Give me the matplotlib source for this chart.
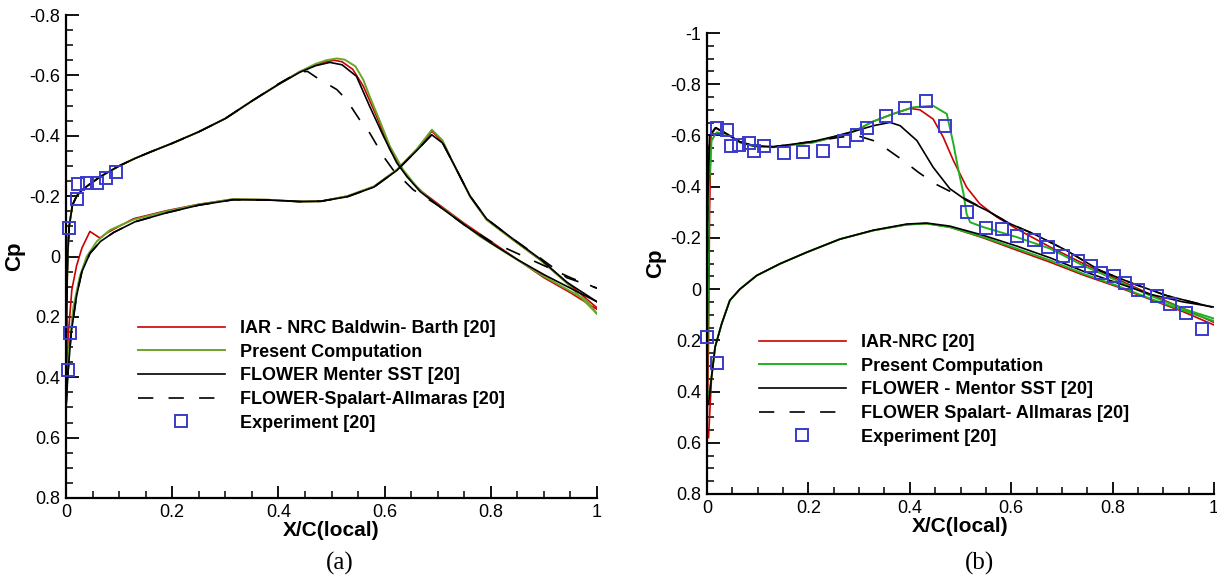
import numpy as np
import matplotlib
matplotlib.use("Agg")
import matplotlib.pyplot as plt
from matplotlib.ticker import MultipleLocator, FuncFormatter

plt.rcParams['font.family'] = ['Liberation Sans', 'DejaVu Sans']
plt.rcParams['axes.unicode_minus'] = False
plt.rcParams['lines.scale_dashes'] = False

# ---------------- (a) ----------------
# upper branch (suction peak near mid chord)
a_iar_up_x = [0, 0.001, 0.003, 0.006, 0.012, 0.02, 0.03, 0.045, 0.065, 0.1, 0.13, 0.16, 0.2, 0.25, 0.3, 0.35, 0.4,
              0.44, 0.47, 0.49, 0.505, 0.52, 0.54, 0.56, 0.585, 0.61, 0.642, 0.67, 0.7, 0.75, 0.8, 0.85, 0.9, 0.95, 1.0]
a_iar_up_cp = [0.45, 0.2, 0.0, -0.1, -0.17, -0.2, -0.22, -0.24, -0.265, -0.3, -0.325, -0.347, -0.375, -0.413, -0.457,
               -0.515, -0.57, -0.612, -0.635, -0.645, -0.65, -0.645, -0.62, -0.564, -0.464, -0.354, -0.265, -0.215,
               -0.175, -0.11, -0.05, 0.01, 0.07, 0.12, 0.175]
a_pres_up_x = [0, 0.001, 0.003, 0.006, 0.012, 0.02, 0.03, 0.045, 0.065, 0.1, 0.13, 0.16, 0.2, 0.25, 0.3, 0.35, 0.4,
               0.44, 0.47, 0.49, 0.51, 0.525, 0.545, 0.56, 0.572, 0.59, 0.61, 0.635, 0.66, 0.685, 0.73, 0.78, 0.84,
               0.9, 0.95, 0.98, 1.0]
a_pres_up_cp = [0.45, 0.2, 0.0, -0.1, -0.17, -0.2, -0.22, -0.24, -0.265, -0.3, -0.325, -0.347, -0.375, -0.413, -0.457,
                -0.515, -0.57, -0.612, -0.638, -0.65, -0.656, -0.652, -0.63, -0.585, -0.53, -0.453, -0.365, -0.287,
                -0.232, -0.19, -0.133, -0.066, 0.0, 0.066, 0.115, 0.145, 0.19]
a_sst_up_x = [0, 0.001, 0.003, 0.006, 0.012, 0.02, 0.03, 0.045, 0.065, 0.1, 0.13, 0.16, 0.2, 0.25, 0.3, 0.35, 0.4,
              0.44, 0.47, 0.497, 0.52, 0.547, 0.572, 0.598, 0.623, 0.642, 0.667, 0.7, 0.75, 0.8, 0.85, 0.9, 0.95, 1.0]
a_sst_up_cp = [0.45, 0.2, 0.0, -0.1, -0.17, -0.2, -0.22, -0.24, -0.265, -0.3, -0.325, -0.347, -0.375, -0.413, -0.457,
               -0.515, -0.57, -0.61, -0.632, -0.643, -0.635, -0.597, -0.497, -0.398, -0.31, -0.265, -0.215, -0.17,
               -0.105, -0.045, 0.01, 0.06, 0.105, 0.15]
a_sa_up_x = [0, 0.001, 0.003, 0.006, 0.012, 0.02, 0.03, 0.045, 0.065, 0.1, 0.13, 0.16, 0.2, 0.25, 0.3, 0.35, 0.4,
             0.44, 0.455, 0.47, 0.51, 0.528, 0.553, 0.572, 0.598, 0.616, 0.654, 0.7, 0.75, 0.8, 0.85, 0.9, 0.95, 1.0]
a_sa_up_cp = [0.45, 0.2, 0.0, -0.1, -0.17, -0.2, -0.22, -0.24, -0.265, -0.3, -0.325, -0.347, -0.375, -0.413, -0.457,
              -0.515, -0.572, -0.612, -0.613, -0.595, -0.553, -0.52, -0.453, -0.409, -0.331, -0.287, -0.221, -0.17,
              -0.105, -0.05, -0.01, 0.03, 0.07, 0.105]

# lower branch (shock near x = 0.69)
a_iar_lo_x = [0, 0.004, 0.011, 0.02, 0.03, 0.045, 0.064, 0.076, 0.1, 0.127, 0.19, 0.25, 0.315, 0.38, 0.44, 0.48, 0.53,
              0.58, 0.623, 0.66, 0.689, 0.709, 0.729, 0.761, 0.792, 0.842, 0.893, 0.943, 1.0]
a_iar_lo_cp = [0.5, 0.265, 0.11, 0.03, -0.028, -0.083, -0.061, -0.077, -0.1, -0.125, -0.152, -0.173, -0.19, -0.188,
               -0.182, -0.183, -0.2, -0.232, -0.287, -0.354, -0.415, -0.38, -0.31, -0.199, -0.122, -0.055, 0.011,
               0.085, 0.17]
a_pres_lo_x = [0, 0.002, 0.006, 0.014, 0.026, 0.039, 0.058, 0.083, 0.127, 0.19, 0.25, 0.315, 0.38, 0.44, 0.48, 0.53,
               0.58, 0.623, 0.66, 0.689, 0.709, 0.729, 0.761, 0.792, 0.842, 0.893, 0.943, 1.0]
a_pres_lo_cp = [0.5, 0.42, 0.3, 0.166, 0.066, 0.0, -0.05, -0.088, -0.122, -0.15, -0.172, -0.19, -0.188, -0.182,
                -0.183, -0.2, -0.232, -0.287, -0.354, -0.42, -0.385, -0.31, -0.199, -0.122, -0.055, 0.011, 0.088, 0.19]
a_sst_lo_x = [0, 0.004, 0.01, 0.02, 0.03, 0.045, 0.065, 0.09, 0.13, 0.19, 0.25, 0.315, 0.38, 0.44, 0.48, 0.53, 0.58,
              0.623, 0.66, 0.689, 0.709, 0.729, 0.761, 0.792, 0.842, 0.893, 0.943, 1.0]
a_sst_lo_cp = [0.5, 0.38, 0.25, 0.13, 0.05, -0.01, -0.05, -0.08, -0.115, -0.145, -0.17, -0.188, -0.187, -0.182,
               -0.183, -0.198, -0.23, -0.285, -0.35, -0.403, -0.376, -0.31, -0.2, -0.125, -0.058, 0.008, 0.085, 0.15]
a_sa_lo_x = a_sst_lo_x
a_sa_lo_cp = [0.5, 0.38, 0.25, 0.13, 0.05, -0.01, -0.05, -0.08, -0.115, -0.145, -0.17, -0.188, -0.187, -0.182,
              -0.183, -0.198, -0.23, -0.285, -0.35, -0.405, -0.378, -0.31, -0.2, -0.125, -0.058, 0.005, 0.07, 0.105]

a_exp_x = [0.006, 0.02, 0.023, 0.039, 0.058, 0.075, 0.095, 0.008, 0.004]
a_exp_cp = [-0.095, -0.19, -0.24, -0.245, -0.245, -0.26, -0.28, 0.254, 0.376]

# ---------------- (b) ----------------
b_iar_up_x = [0.0, 0.003, 0.005, 0.008, 0.017, 0.039, 0.065, 0.092, 0.131, 0.17, 0.21, 0.249, 0.289, 0.328, 0.367,
              0.4, 0.42, 0.446, 0.466, 0.486, 0.512, 0.538, 0.572, 0.611, 0.677, 0.742, 0.808, 0.874, 0.939, 1.0]
b_iar_up_cp = [0.58, 0.2, -0.3, -0.6, -0.63, -0.606, -0.573, -0.558, -0.554, -0.564, -0.573, -0.593, -0.615, -0.655,
               -0.684, -0.706, -0.7, -0.664, -0.593, -0.502, -0.398, -0.333, -0.281, -0.235, -0.164, -0.1, -0.04,
               0.02, 0.075, 0.13]
b_pres_up_x = [0.0, 0.002, 0.004, 0.009, 0.019, 0.039, 0.065, 0.092, 0.131, 0.17, 0.21, 0.249, 0.289, 0.328, 0.367,
               0.407, 0.446, 0.473, 0.486, 0.496, 0.506, 0.512, 0.519, 0.545, 0.611, 0.677, 0.742, 0.808, 0.874,
               0.939, 1.0]
b_pres_up_cp = [0.42, 0.0, -0.4, -0.58, -0.612, -0.606, -0.573, -0.558, -0.554, -0.564, -0.573, -0.593, -0.615,
                -0.655, -0.684, -0.71, -0.716, -0.684, -0.567, -0.463, -0.372, -0.294, -0.261, -0.242, -0.203,
                -0.158, -0.092, -0.034, 0.025, 0.077, 0.115]
b_sst_up_x = [0.0, 0.001, 0.005, 0.017, 0.039, 0.065, 0.092, 0.131, 0.17, 0.21, 0.249, 0.295, 0.328, 0.361, 0.381,
              0.414, 0.446, 0.479, 0.512, 0.552, 0.598, 0.644, 0.709, 0.775, 0.841, 0.906, 0.995]
b_sst_up_cp = [0.45, -0.3, -0.6, -0.63, -0.606, -0.575, -0.56, -0.556, -0.566, -0.577, -0.595, -0.619, -0.638,
               -0.651, -0.638, -0.58, -0.476, -0.392, -0.346, -0.307, -0.255, -0.216, -0.151, -0.073, -0.021, 0.025,
               0.07]
b_sa_up_x = [0.0, 0.001, 0.005, 0.017, 0.039, 0.065, 0.092, 0.131, 0.17, 0.21, 0.262, 0.295, 0.328, 0.354, 0.387,
             0.417, 0.45, 0.476, 0.512, 0.552, 0.598, 0.644, 0.709, 0.775, 0.841, 0.906, 0.995]
b_sa_up_cp = [0.45, -0.3, -0.6, -0.63, -0.606, -0.575, -0.56, -0.556, -0.566, -0.577, -0.593, -0.6, -0.58, -0.548,
              -0.502, -0.456, -0.411, -0.385, -0.35, -0.307, -0.255, -0.216, -0.151, -0.073, -0.021, 0.025, 0.07]

b_lo_x = [0.003, 0.009, 0.016, 0.029, 0.045, 0.065, 0.098, 0.144, 0.197, 0.262, 0.328, 0.394, 0.433, 0.479, 0.545,
          0.611, 0.677, 0.742, 0.808, 0.874, 0.939, 1.0]
b_iar_lo_cp = [0.58, 0.343, 0.226, 0.135, 0.044, 0.0, -0.053, -0.099, -0.144, -0.195, -0.229, -0.252, -0.256,
               -0.242, -0.2, -0.152, -0.105, -0.055, -0.01, 0.04, 0.088, 0.14]
b_pres_lo_cp = [0.42, 0.343, 0.226, 0.135, 0.044, 0.0, -0.053, -0.099, -0.144, -0.195, -0.229, -0.252, -0.256,
                -0.242, -0.203, -0.158, -0.112, -0.06, -0.014, 0.037, 0.083, 0.125]
b_sst_lo_cp = [0.45, 0.343, 0.226, 0.135, 0.044, 0.0, -0.053, -0.099, -0.144, -0.195, -0.23, -0.254, -0.258,
               -0.246, -0.21, -0.168, -0.122, -0.07, -0.025, 0.02, 0.05, 0.07]

b_exp_x = [0.02, 0.04, 0.047, 0.064, 0.082, 0.092, 0.113, 0.152, 0.19, 0.229, 0.27, 0.295, 0.315, 0.354, 0.39,
           0.432, 0.469, 0.512, 0.55, 0.581, 0.611, 0.644, 0.673, 0.703, 0.732, 0.757, 0.778, 0.803, 0.825,
           0.851, 0.887, 0.913, 0.945, 0.976, 0.0, 0.019]
b_exp_cp = [-0.628, -0.623, -0.558, -0.564, -0.571, -0.538, -0.557, -0.532, -0.537, -0.538, -0.58, -0.6, -0.63,
            -0.674, -0.706, -0.733, -0.638, -0.303, -0.238, -0.235, -0.209, -0.19, -0.164, -0.131, -0.108, -0.092,
            -0.064, -0.053, -0.025, 0.002, 0.028, 0.06, 0.092, 0.155, 0.187, 0.289]

labels_a = ["IAR - NRC Baldwin- Barth [20]", "Present Computation", "FLOWER Menter SST [20]",
            "FLOWER-Spalart-Allmaras [20]", "Experiment [20]"]
labels_b = ["IAR-NRC [20]", "Present Computation", "FLOWER - Mentor SST [20]",
            "FLOWER Spalart- Allmaras [20]", "Experiment [20]"]

RED = "#cc0000"
BLUE = "#3a3acc"
DASH = (0, (11, 11))


def style_axes(ax, ymin, ymax):
    ax.set_xlim(0, 1)
    ax.set_ylim(ymax, ymin)  # Cp axis inverted
    for s in ("top", "right"):
        ax.spines[s].set_visible(False)
    for s in ("left", "bottom"):
        ax.spines[s].set_linewidth(1.6)
    ax.xaxis.set_major_locator(MultipleLocator(0.2))
    ax.xaxis.set_minor_locator(MultipleLocator(0.05))
    ax.yaxis.set_major_locator(MultipleLocator(0.2))
    ax.yaxis.set_minor_locator(MultipleLocator(0.05))
    fmt = FuncFormatter(lambda v, p: "%g" % round(v, 3))
    ax.xaxis.set_major_formatter(fmt)
    ax.yaxis.set_major_formatter(fmt)
    ax.tick_params(which="major", direction="in", length=9, width=1.3, labelsize=13, pad=4)
    ax.tick_params(which="minor", direction="in", length=5, width=1.1)
    ax.set_xlabel("X/C(local)", fontsize=15, fontweight="bold", labelpad=0)
    ax.set_ylabel("Cp", fontsize=16, fontweight="bold", labelpad=3)


fig = plt.figure(figsize=(12.17, 5.81), dpi=100)
leg_kw = dict(loc="upper left", bbox_transform=fig.transFigure, frameon=False,
              prop={"weight": "bold", "size": 13}, handlelength=4.8, handletextpad=0.85,
              labelspacing=0.37, borderpad=0, borderaxespad=0)

# panel (a)
ax1 = fig.add_axes([66 / 1217, 1 - 498 / 581, 531 / 1217, 483 / 581])
ax1.plot(a_iar_up_x, a_iar_up_cp, color=RED, lw=1.2, label=labels_a[0])
ax1.plot(a_iar_lo_x, a_iar_lo_cp, color=RED, lw=1.2)
ax1.plot(a_pres_up_x, a_pres_up_cp, color="#6aa52a", lw=1.4, label=labels_a[1])
ax1.plot(a_pres_lo_x, a_pres_lo_cp, color="#6aa52a", lw=1.4)
ax1.plot(a_sst_up_x, a_sst_up_cp, color="black", lw=1.2, label=labels_a[2])
ax1.plot(a_sst_lo_x, a_sst_lo_cp, color="black", lw=1.2)
ax1.plot(a_sa_up_x, a_sa_up_cp, color="black", lw=1.2, ls=DASH, label=labels_a[3])
ax1.plot(a_sa_lo_x, a_sa_lo_cp, color="black", lw=1.2, ls=DASH)
ax1.plot(a_exp_x, a_exp_cp, ls="none", marker="s", ms=9, mfc="none", mec=BLUE, mew=1.4,
         label=labels_a[4], clip_on=False, zorder=5)
style_axes(ax1, -0.8, 0.8)
ax1.legend(bbox_to_anchor=(138 / 1217, 1 - 320 / 581), **leg_kw)

# panel (b)
ax2 = fig.add_axes([707 / 1217, 1 - 494 / 581, 507 / 1217, 461 / 581])
ax2.plot(b_iar_up_x, b_iar_up_cp, color=RED, lw=1.2, label=labels_b[0])
ax2.plot(b_lo_x, b_iar_lo_cp, color=RED, lw=1.2)
ax2.plot(b_pres_up_x, b_pres_up_cp, color="#22b022", lw=1.4, label=labels_b[1])
ax2.plot(b_lo_x, b_pres_lo_cp, color="#22b022", lw=1.4)
ax2.plot(b_sst_up_x, b_sst_up_cp, color="black", lw=1.2, label=labels_b[2])
ax2.plot(b_lo_x, b_sst_lo_cp, color="black", lw=1.2)
ax2.plot(b_sa_up_x, b_sa_up_cp, color="black", lw=1.2, ls=DASH, label=labels_b[3])
ax2.plot(b_exp_x, b_exp_cp, ls="none", marker="s", ms=9, mfc="none", mec=BLUE, mew=1.4,
         label=labels_b[4], clip_on=False, zorder=5)
style_axes(ax2, -1.0, 0.8)
ax2.legend(bbox_to_anchor=(759 / 1217, 1 - 334 / 581), **leg_kw)

fig.text(340 / 1217, 1 - 563 / 581, "(a)", family="Liberation Serif", fontsize=18, ha="center", va="center")
fig.text(980 / 1217, 1 - 563 / 581, "(b)", family="Liberation Serif", fontsize=18, ha="center", va="center")

fig.savefig("out.png", dpi=100)
